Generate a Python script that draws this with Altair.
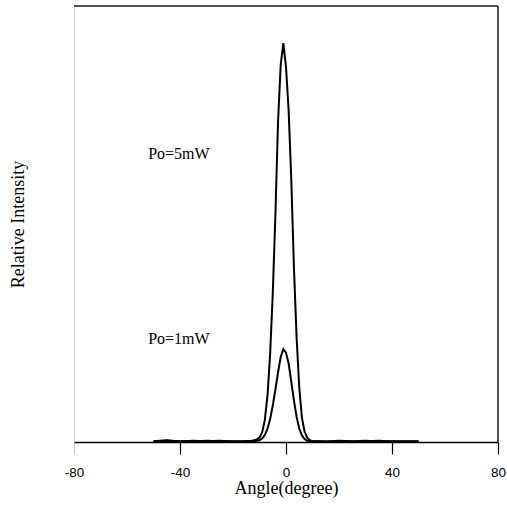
import altair as alt
import pandas as pd

angle = [-50, -45, -40, -35, -30, -25, -20, -16, -13, -12, -11, -10, -9, -8, -7, -6, -5, -4, -3, -2, -1,
         0, 1, 2, 3, 4, 5, 6, 7, 8, 9, 10, 12, 15, 20, 25, 30, 35, 40, 45, 50]
p5mw = [0.002, 0.004, 0.001, 0.003, 0.002, 0.003, 0.001, 0.002, 0.003, 0.004, 0.006, 0.010, 0.022, 0.050, 0.105,
        0.20, 0.34, 0.52, 0.735, 0.865, 0.915, 0.86, 0.76, 0.60, 0.40, 0.24, 0.125, 0.056, 0.024, 0.010, 0.004,
        0.002, 0.002, 0.001, 0.003, 0.002, 0.003, 0.001, 0.002, 0.001, 0.002]
p1mw = [0.001, 0.003, 0.002, 0.001, 0.003, 0.002, 0.002, 0.001, 0.002, 0.002, 0.003, 0.004, 0.008, 0.016, 0.030,
        0.052, 0.083, 0.12, 0.16, 0.195, 0.213, 0.205, 0.18, 0.138, 0.095, 0.058, 0.031, 0.015, 0.007, 0.003, 0.002,
        0.001, 0.002, 0.001, 0.002, 0.001, 0.002, 0.003, 0.001, 0.002, 0.001]

labels = ["Po=5mW", "Po=1mW"]
label_x = [-52, -52]
label_y = [0.66, 0.237]

df = pd.DataFrame(
    {"angle": angle * 2,
     "value": p5mw + p1mw,
     "series": ["5mW"] * len(angle) + ["1mW"] * len(angle)}
)
lab = pd.DataFrame({"label": labels, "x": label_x, "y": label_y})

W, H = 424, 436

xscale = alt.Scale(domain=[-80, 80], nice=False)
yscale = alt.Scale(domain=[0, 1], nice=False)

lines = alt.Chart(df).mark_line(color="black", strokeWidth=2).encode(
    x=alt.X("angle:Q", scale=xscale,
            axis=alt.Axis(values=[-80, -40, 0, 40, 80], title="Angle(degree)",
                          labelExpr="'' + datum.value", labelFlush=False,
                          grid=False, domainColor="black", domainWidth=1.5,
                          tickColor={"condition": {"test": "datum.value == -80", "value": "#cccccc"}, "value": "black"},
                          tickSize=12, tickWidth=1.2,
                          labelFont="Liberation Sans", labelFontSize=13.5, labelColor="black",
                          labelPadding=11,
                          titleFont="Liberation Serif", titleFontSize=18, titleFontWeight="normal",
                          titleColor="black", titlePadding=1)),
    y=alt.Y("value:Q", scale=yscale,
            axis=alt.Axis(title="Relative Intensity", grid=False, ticks=False, labels=False,
                          domainColor="#cccccc", domainWidth=1,
                          titleFont="Liberation Serif", titleFontSize=18, titleFontWeight="normal",
                          titleColor="black", titlePadding=47)),
    detail="series:N",
)

text = alt.Chart(lab).mark_text(align="left", baseline="middle", font="Liberation Serif",
                                fontSize=16, color="black").encode(
    x=alt.X("x:Q", scale=xscale),
    y=alt.Y("y:Q", scale=yscale),
    text="label:N",
)

top = alt.Chart(lab).mark_rule(color="#444444", strokeWidth=1.5).encode(
    x=alt.value(0), x2=alt.value(W), y=alt.value(0)
)
right = alt.Chart(lab).mark_rule(color="#444444", strokeWidth=1.5).encode(
    x=alt.value(W), y=alt.value(0), y2=alt.value(H)
)

chart = alt.layer(lines, text, top, right).properties(
    width=W, height=H,
    autosize=alt.AutoSizeParams(type="none"),
    padding={"left": 74, "top": 6, "right": 9, "bottom": 64},
).configure_view(stroke=None)

chart.save("out.html", embed_options={"renderer": "svg", "actions": False})
